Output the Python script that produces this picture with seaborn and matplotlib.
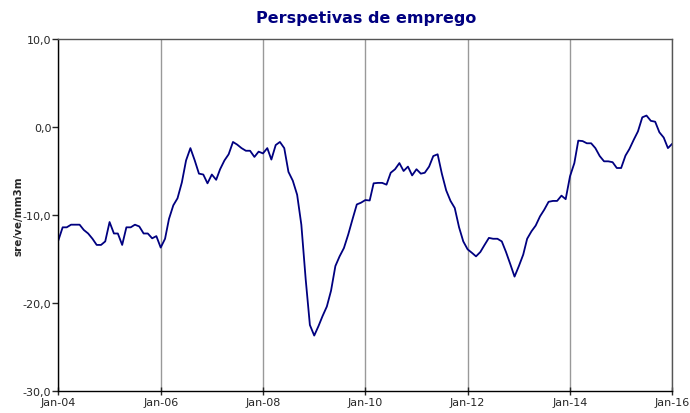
import pandas as pd
import numpy as np
import matplotlib
matplotlib.use("Agg")
import matplotlib.pyplot as plt
import matplotlib.dates as mdates
from matplotlib.ticker import FuncFormatter
import seaborn as sns

# monthly series, Jan-2004 .. Jan-2016 (sre/ve/mm3m)
values = [
    -12.9, -11.4, -11.4, -11.1, -11.1, -11.1, -11.7, -12.1, -12.7, -13.4, -13.4, -13.0,
    -10.8, -12.1, -12.1, -13.4, -11.4, -11.4, -11.1, -11.3, -12.1, -12.1, -12.65, -12.4,
    -13.7, -12.7, -10.45, -8.9, -8.1, -6.3, -3.8, -2.4, -3.8, -5.3, -5.4, -6.4,
    -5.4, -6.0, -4.8, -3.8, -3.1, -1.7, -2.0, -2.4, -2.7, -2.7, -3.4, -2.8,
    -3.0, -2.4, -3.7, -2.05, -1.7, -2.4, -5.1, -6.1, -7.7, -11.1, -17.3, -22.5,
    -23.7, -22.6, -21.5, -20.4, -18.6, -15.8, -14.7, -13.75, -12.2, -10.5, -8.8, -8.6,
    -8.3, -8.35, -6.4, -6.35, -6.35, -6.55, -5.2, -4.8, -4.1, -5.0, -4.5, -5.5,
    -4.8, -5.3, -5.2, -4.5, -3.3, -3.1, -5.3, -7.2, -8.4, -9.2, -11.4, -13.0,
    -13.9, -14.3, -14.7, -14.2, -13.4, -12.6, -12.7, -12.7, -13.0, -14.2, -15.6, -17.0,
    -15.8, -14.5, -12.7, -11.85, -11.2, -10.15, -9.4, -8.5, -8.4, -8.4, -7.8, -8.2,
    -5.6, -4.1, -1.55, -1.6, -1.85, -1.85, -2.4, -3.3, -3.9, -3.9, -4.0, -4.66,
    -4.66, -3.25, -2.5, -1.45, -0.5, 1.1, 1.3, 0.7, 0.6, -0.6, -1.2, -2.4,
    -1.9,
]
dates = pd.date_range("2004-01-01", periods=len(values), freq="MS")
df = pd.DataFrame({"date": dates, "value": values})

title = "Perspetivas de emprego"
ylabel = "sre/ve/mm3m"
navy = "#000080"

sns.set_style("white")
plt.rcParams["font.family"] = ["DejaVu Sans"]

fig = plt.figure(figsize=(6.9, 4.14), dpi=100)
ax = fig.add_axes([0.0845, 0.0531, 0.8898, 0.8503])

sns.lineplot(data=df, x="date", y="value", color=navy, linewidth=1.3, ax=ax)

ax.set_xlim(pd.Timestamp("2004-01-01"), pd.Timestamp("2016-01-01"))
ax.set_ylim(-30, 10)
ax.set_yticks([-30, -20, -10, 0, 10])
ax.yaxis.set_major_formatter(FuncFormatter(lambda v, p: f"{v:.1f}".replace(".", ",")))
ax.xaxis.set_major_locator(mdates.YearLocator(2))
ax.xaxis.set_major_formatter(mdates.DateFormatter("%b-%y"))

ax.grid(axis="x", color="#999999", linewidth=1.0)
ax.grid(axis="y", visible=False)
ax.set_axisbelow(True)

for s in ["left", "bottom"]:
    ax.spines[s].set_color("black")
    ax.spines[s].set_linewidth(1.0)
for s in ["top", "right"]:
    ax.spines[s].set_color("#555555")
    ax.spines[s].set_linewidth(1.0)

ax.tick_params(axis="x", direction="inout", length=6, width=1, labelsize=8, pad=1,
               bottom=True)
ax.tick_params(axis="y", direction="out", length=4, width=1, labelsize=8, pad=1,
               left=True)

ax.set_xlabel("")
ax.set_ylabel(ylabel, fontsize=7.5, fontweight="bold", labelpad=2)
ax.yaxis.set_label_coords(-0.057, 0.5)

fig.text(0.53, 0.955, title, ha="center", va="center", fontsize=11.5,
         fontweight="bold", color=navy)

fig.savefig("out.png", dpi=100)
